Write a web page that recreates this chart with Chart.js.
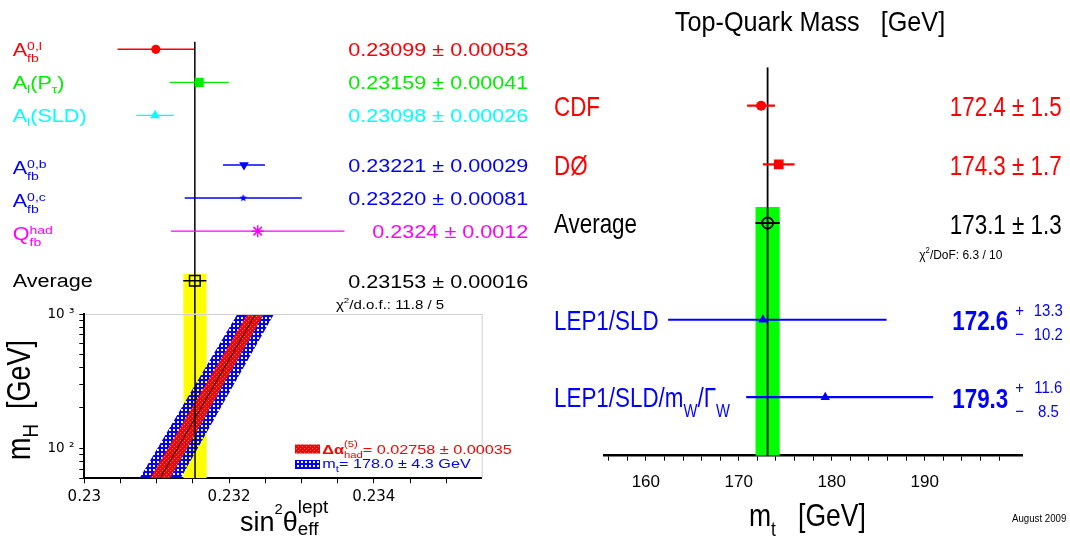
<!DOCTYPE html>
<html>
<head>
<meta charset="utf-8">
<title>sin2theta_eff and top-quark mass</title>
<script src="https://cdn.jsdelivr.net/npm/chart.js@4.4.1/dist/chart.umd.min.js"></script>
<style>
  html, body { margin: 0; padding: 0; background: #fff; }
  #wrap { position: relative; width: 1070px; height: 538px; overflow: hidden; background: #fff; }
  #wrap canvas { position: absolute; left: 0; top: 0; }
</style>
</head>
<body>
<div id="wrap">
  <canvas id="sinForest" width="1070" height="538"></canvas>
  <canvas id="sinHiggs" width="1070" height="538"></canvas>
  <canvas id="topMass" width="1070" height="538"></canvas>
</div>
<script>
// ---- left panel: sin^2 theta_eff^lept measurements
const sinLabels = [
  ["A", { sup: "0,l", sub: "fb" }],
  ["A", { sub: "l", down: 0.25 }, "(P", { sub: "τ", down: 0.25 }, ")"],
  ["A", { sub: "l", down: 0.25 }, "(SLD)"],
  ["A", { sup: "0,b", sub: "fb" }],
  ["A", { sup: "0,c", sub: "fb" }],
  ["Q", { sup: "had", sub: "fb" }],
];
const sinValues = [0.23099, 0.23159, 0.23098, 0.23221, 0.23220, 0.2324];
const sinErrors = [0.00053, 0.00041, 0.00026, 0.00029, 0.00081, 0.0012];
const sinDigits = [5, 5, 5, 5, 5, 4];
const sinRows = [0, 1, 2, 3.5, 4.5, 5.5];
const sinColors = ["#ff0000", "#00ee00", "#00ffff", "#0000ff", "#0000ff", "#ff00ff"];
const sinAverage = 0.23153;
const sinAverageError = 0.00016;
const sinAverageRow = 7;
const sinChi2 = "11.8 / 5";

// SM prediction vs Higgs mass
const mhPoints = [60, 100, 300, 1000];
const sinPredicted = [0.231047, 0.231287, 0.231802, 0.232368];
const alphaHalfWidth = [0.000138, 0.000133, 0.000123, 0.000115];
const mtopHalfWidth = [0.000284, 0.000278, 0.000266, 0.000253];
const alphaText = "0.02758 ± 0.00035";
const mtopText = "178.0 ± 4.3 GeV";

const sinTicks = [0.23, 0.2305, 0.231, 0.2315, 0.232, 0.2325, 0.233, 0.2335, 0.234, 0.2345, 0.235];
const sinTickLabels = [0.23, 0.232, 0.234];
const mhTicks = [60, 70, 80, 90, 100, 200, 300, 400, 500, 600, 700, 800, 900, 1000];
const mhTickLabels = { 100: "10 ²", 1000: "10 ³" };

// ---- right panel: top-quark mass
const mtLabels = [
  ["CDF"],
  ["DØ"],
  ["Average"],
  ["LEP1/SLD"],
  ["LEP1/SLD/m", { sub: "W", down: 0.35, s: 0.66 }, "/Γ", { sub: "W", down: 0.35, s: 0.66 }],
];
const mtValues = [172.4, 174.3, 173.1, 172.6, 179.3];
const mtErrPlus = [1.5, 1.7, 1.3, 13.3, 11.6];
const mtErrMinus = [1.5, 1.7, 1.3, 10.2, 8.5];
const mtRows = [0, 1, 2, 3.65, 4.97];
const mtColors = ["#ff0000", "#ff0000", "#000000", "#0000ff", "#0000ff"];
const mtAverageIndex = 2;
const mtChi2 = "6.3 / 10";
const mtTicks = [156, 158, 160, 162, 164, 166, 168, 170, 172, 174, 176, 178, 180,
  182, 184, 186, 188, 190, 192, 194, 196, 198];
const mtTickLabels = [160, 170, 180, 190];

// ---- page geometry
const W = 1070, H = 538;
const L_LEFT = 84.3, L_RIGHT = 481.7;
const L_ROW0 = 49.3, L_ROWSTEP = 33.06;
const L_PLOT_TOP = 314, L_PLOT_BOTTOM = 478.3;
const R_LEFT = 604, R_RIGHT = 1022.3, R_TOP = 67.3, R_AXIS = 455.7;
const R_ROW0 = 105.7, R_ROWSTEP = 58.65;
const FONT = '"Liberation Sans", Arial, sans-serif';

Chart.defaults.font.family = FONT;
Chart.defaults.color = "#000";

const fontOf = (size, weight) => `${weight || "normal"} ${size}px ${FONT}`;

// text with sub/superscripts, optional horizontal stretch
function richRun(ctx, parts, size, weight, draw) {
  let cx = 0;
  for (const p of parts) {
    const seg = typeof p === "string" ? { t: p } : p;
    if (seg.t !== undefined) {
      ctx.font = fontOf(size * (seg.s || 1), seg.w || weight);
      if (draw) ctx.fillText(seg.t, draw.x + cx, (seg.dy || 0) * size);
      cx += ctx.measureText(seg.t).width;
    } else {
      ctx.font = fontOf(size * (seg.s || 0.65), seg.w || weight);
      let adv = 0;
      if (seg.sup) {
        if (draw) ctx.fillText(seg.sup, draw.x + cx, -(seg.up ?? 0.32) * size);
        adv = ctx.measureText(seg.sup).width;
      }
      if (seg.sub) {
        if (draw) ctx.fillText(seg.sub, draw.x + cx, (seg.down ?? 0.37) * size);
        adv = Math.max(adv, ctx.measureText(seg.sub).width);
      }
      cx += adv;
    }
  }
  return cx;
}

function drawRich(ctx, x, y, parts, o) {
  ctx.save();
  ctx.translate(x, y);
  if (o.rotate) ctx.rotate(o.rotate);
  ctx.scale(o.sx || 1, o.sy || 1);
  ctx.fillStyle = o.color || "#000";
  ctx.textAlign = "left";
  ctx.textBaseline = "alphabetic";
  const w = richRun(ctx, parts, o.size, o.weight, null);
  const x0 = o.align === "right" ? -w : o.align === "center" ? -w / 2 : 0;
  richRun(ctx, parts, o.size, o.weight, { x: x0 });
  ctx.restore();
}

function makeStar(outer, inner, color) {
  const c = document.createElement("canvas");
  const size = Math.ceil(outer * 2) + 2;
  c.width = c.height = size;
  const g = c.getContext("2d");
  g.fillStyle = color;
  g.beginPath();
  for (let k = 0; k < 10; k++) {
    const r = k % 2 ? inner : outer;
    const a = -Math.PI / 2 + (k * Math.PI) / 5;
    g.lineTo(size / 2 + r * Math.cos(a), size / 2 + r * Math.sin(a));
  }
  g.closePath();
  g.fill();
  return c;
}

function makePattern(w, h, paint) {
  const c = document.createElement("canvas");
  c.width = w;
  c.height = h;
  paint(c.getContext("2d"));
  return c.getContext("2d").createPattern(c, "repeat");
}

const bluePattern = makePattern(4, 4, (g) => {
  g.fillStyle = "#0000ff";
  g.fillRect(0, 0, 4, 4);
  g.clearRect(1, 1, 2, 2);
});
const redPattern = makePattern(4, 4, (g) => {
  g.fillStyle = "#ff0000";
  g.fillRect(0, 0, 4, 4);
  g.fillStyle = "#ff7070";
  g.fillRect(0, 0, 1, 1);
  g.fillRect(2, 2, 1, 1);
});

const noInteraction = {
  responsive: false,
  animation: false,
  devicePixelRatio: 1,
  events: [],
};
const noPlugins = { legend: { display: false }, tooltip: { enabled: false } };

const hLine = (x0, x1, y, color, width, order) => ({
  data: [{ x: x0, y }, { x: x1, y }],
  showLine: true, borderColor: color, borderWidth: width, pointRadius: 0, order,
});
const vLine = (x, y0, y1, color, width, order) => ({
  data: [{ x, y: y0 }, { x, y: y1 }],
  showLine: true, borderColor: color, borderWidth: width, pointRadius: 0, order,
});
const box = (x0, x1, y0, y1, fill, order) => ({
  data: [{ x: x0, y: y0 }, { x: x0, y: y1 }, { x: x1, y: y1 }, { x: x1, y: y0 }],
  showLine: true, borderWidth: 0, borderColor: "rgba(0,0,0,0)", backgroundColor: fill,
  fill: "shape", pointRadius: 0, order,
});

// ================= left, upper part: measurements =================
const labelShift = [0, 0, 0, 2.3, 2.3, 2.3];

const forestText = {
  id: "forestText",
  afterDraw(chart) {
    const { ctx } = chart;
    const y = chart.scales.y;
    sinLabels.forEach((parts, i) => {
      const py = y.getPixelForValue(sinRows[i]);
      drawRich(ctx, 12.7, py + 6.4 + labelShift[i], parts, { size: 18, sx: 1.2, color: sinColors[i] });
      const d = sinDigits[i];
      const txt = sinValues[i].toFixed(d) + " ± " + sinErrors[i].toFixed(d);
      drawRich(ctx, 528.3, py + 6.8, [txt], { size: 18, sx: 1.2, color: sinColors[i], align: "right" });
    });
    const pa = y.getPixelForValue(sinAverageRow);
    drawRich(ctx, 12.7, pa + 6.2, ["Average"], { size: 18, sx: 1.2 });
    drawRich(ctx, 528.3, pa + 6.8, [sinAverage.toFixed(5) + " ± " + sinAverageError.toFixed(5)],
      { size: 18, sx: 1.2, align: "right" });
  },
};

new Chart(document.getElementById("sinForest"), {
  type: "scatter",
  data: {
    datasets: [
      {
        data: sinValues.map((v, i) => ({ x: v, y: sinRows[i] })),
        pointStyle: ["circle", "rect", "triangle", "triangle", makeStar(4, 1.7, "#0000ff"), "star"],
        pointRotation: [0, 0, 0, 180, 0, 0],
        pointRadius: [4.6, 6.4, 5.6, 5.6, 4, 6],
        pointBackgroundColor: sinColors,
        pointBorderColor: sinColors,
        pointBorderWidth: [0, 0, 0, 0, 0, 1.5],
        order: 0,
      },
      {
        data: [{ x: sinAverage, y: sinAverageRow }],
        pointStyle: "rect", pointRadius: 7.5,
        pointBackgroundColor: "rgba(0,0,0,0)", pointBorderColor: "#000", pointBorderWidth: 1.5,
        order: 0,
      },
      ...sinValues.map((v, i) =>
        hLine(v - sinErrors[i], v + sinErrors[i], sinRows[i], sinColors[i], 1.4, 1)),
      hLine(sinAverage - sinAverageError, sinAverage + sinAverageError, sinAverageRow, "#000", 1.4, 1),
      vLine(sinAverage, -0.23, 8, "#000", 1.5, 2),
      box(sinAverage - sinAverageError, sinAverage + sinAverageError, 6.8, 8, "#ffff00", 3),
    ],
  },
  options: {
    ...noInteraction,
    layout: {
      padding: {
        left: L_LEFT, right: W - L_RIGHT,
        top: L_ROW0 - L_ROWSTEP, bottom: H - (L_ROW0 + 8 * L_ROWSTEP),
      },
    },
    scales: {
      x: { type: "linear", display: false, min: 0.23, max: 0.2355 },
      y: { type: "linear", display: false, reverse: true, min: -1, max: 8 },
    },
    plugins: noPlugins,
  },
  plugins: [forestText],
});

// ================= left, lower part: m_H vs sin^2 =================
const higgsText = {
  id: "higgsText",
  afterDraw(chart) {
    const { ctx, chartArea: a } = chart;
    ctx.save();
    ctx.strokeStyle = "#d0d0d0";
    ctx.lineWidth = 1;
    ctx.beginPath();
    ctx.moveTo(a.left + 1, a.top + 0.5);
    ctx.lineTo(a.right + 0.5, a.top + 0.5);
    ctx.lineTo(a.right + 0.5, a.bottom);
    ctx.stroke();
    ctx.fillStyle = redPattern;
    ctx.fillRect(295, 444.5, 25, 9);
    ctx.fillStyle = bluePattern;
    ctx.fillRect(295, 460, 25, 9);
    ctx.restore();

    drawRich(ctx, 322.3, 453.5,
      [{ t: "Δα", w: "bold" }, { sup: "(5)", sub: "had", up: 0.45, down: 0.3, s: 0.7 }, "= " + alphaText],
      { size: 13.5, sx: 1.2, color: "#ff0000" });
    drawRich(ctx, 322.3, 467.7, ["m", { sub: "t", down: 0.3, s: 0.7 }, "= " + mtopText],
      { size: 13.5, sx: 1.2, color: "#0000ff" });
    drawRich(ctx, 336, 308.5, ["χ", { sup: "2", up: 0.45, s: 0.65 }, "/d.o.f.: " + sinChi2],
      { size: 12.5, sx: 1.2 });

    drawRich(ctx, 240, 530.7,
      ["sin", { sup: "2", up: 0.63, s: 0.55 }, "θ", { sup: "lept", sub: "eff", up: 0.66, down: 0.16, s: 0.7 }],
      { size: 27 });
    drawRich(ctx, 30, 400, ["m", { sub: "H", down: 0.25, s: 0.7 }, "  [GeV]"],
      { size: 27, rotate: -Math.PI / 2, sy: 1.2, align: "center" });
  },
};

const bandPolygon = (halfWidths) => [
  ...mhPoints.map((m, i) => ({ x: sinPredicted[i] - halfWidths[i], y: m })),
  ...mhPoints.map((m, i) => ({ x: sinPredicted[i] + halfWidths[i], y: m })).reverse(),
];

new Chart(document.getElementById("sinHiggs"), {
  type: "scatter",
  data: {
    datasets: [
      vLine(sinAverage, mhPoints[0], mhPoints[mhPoints.length - 1], "#000", 1.5, 0),
      {
        data: mhPoints.map((m, i) => ({ x: sinPredicted[i], y: m })),
        showLine: true, borderColor: "#000", borderWidth: 1, pointRadius: 0, order: 1,
      },
      {
        data: bandPolygon(alphaHalfWidth),
        showLine: true, borderWidth: 0, borderColor: "rgba(0,0,0,0)",
        backgroundColor: redPattern, fill: "shape", pointRadius: 0, order: 2,
      },
      {
        data: bandPolygon(mtopHalfWidth),
        showLine: true, borderWidth: 0, borderColor: "rgba(0,0,0,0)",
        backgroundColor: bluePattern, fill: "shape", pointRadius: 0, order: 3,
      },
      box(sinAverage - sinAverageError, sinAverage + sinAverageError,
        mhPoints[0], mhPoints[mhPoints.length - 1], "#ffff00", 4),
    ],
  },
  options: {
    ...noInteraction,
    layout: { padding: { left: L_LEFT - 50, right: W - L_RIGHT, top: L_PLOT_TOP, bottom: H - L_PLOT_BOTTOM - 30 } },
    scales: {
      x: {
        type: "linear", min: 0.23, max: 0.23549,
        afterBuildTicks: (axis) => { axis.ticks = sinTicks.map((v) => ({ value: v })); },
        afterFit: (axis) => { axis.height = 30; },
        ticks: {
          autoSkip: false, maxRotation: 0, padding: 5, color: "#000",
          font: { family: "DejaVu Sans", size: 15 },
          callback: (v) => (sinTickLabels.some((t) => Math.abs(t - v) < 1e-9) ? String(v) : ""),
        },
        grid: { drawOnChartArea: false, drawTicks: true, tickLength: 5, tickColor: "#000" },
        border: { display: true, color: "#000", width: 2 },
      },
      y: {
        type: "logarithmic", min: 60, max: 1000,
        afterBuildTicks: (axis) => { axis.ticks = mhTicks.map((v) => ({ value: v })); },
        afterFit: (axis) => { axis.width = 50; },
        ticks: {
          autoSkip: false, padding: 5, color: "#000",
          font: { family: "DejaVu Sans", size: 13.5 },
          callback: (v) => mhTickLabels[v] || "",
        },
        grid: { drawOnChartArea: false, drawTicks: true, tickLength: 5, tickColor: "#000" },
        border: { display: true, color: "#000", width: 2 },
      },
    },
    plugins: noPlugins,
  },
  plugins: [higgsText],
});

// ================= right panel: top-quark mass =================
const topText = {
  id: "topText",
  afterDraw(chart) {
    const { ctx } = chart;
    const y = chart.scales.y;
    drawRich(ctx, 810, 30.6, ["Top-Quark Mass   [GeV]"], { size: 28, sx: 0.9, align: "center" });
    mtLabels.forEach((parts, i) => {
      const py = y.getPixelForValue(mtRows[i]);
      drawRich(ctx, 554, py + 10.3, parts, { size: 28, sx: 0.8, color: mtColors[i] });
      if (mtErrPlus[i] === mtErrMinus[i]) {
        drawRich(ctx, 1061.7, py + 10.5,
          [mtValues[i].toFixed(1) + " ± " + mtErrPlus[i].toFixed(1)],
          { size: 28, sx: 0.8, color: mtColors[i], align: "right" });
      } else {
        drawRich(ctx, 1008.3, py + 10.5, [mtValues[i].toFixed(1)],
          { size: 28, sx: 0.8, weight: "bold", color: mtColors[i], align: "right" });
        drawRich(ctx, 1019.5, py - 4, ["+"], { size: 17, sx: 0.88, color: mtColors[i], align: "center" });
        drawRich(ctx, 1019.5, py + 20, ["−"], { size: 17, sx: 0.88, color: mtColors[i], align: "center" });
        drawRich(ctx, 1048.3, py - 4, [mtErrPlus[i].toFixed(1)],
          { size: 17, sx: 0.88, color: mtColors[i], align: "center" });
        drawRich(ctx, 1048.3, py + 20, [mtErrMinus[i].toFixed(1)],
          { size: 17, sx: 0.88, color: mtColors[i], align: "center" });
      }
    });
    const pa = y.getPixelForValue(mtRows[mtAverageIndex]);
    drawRich(ctx, 919.3, pa + 36, ["χ", { sup: "2", up: 0.5, s: 0.65 }, "/DoF: " + mtChi2], { size: 13, sx: 0.92 });
    drawRich(ctx, 749, 526, ["m", { sub: "t", down: 0.3, s: 0.65 }, "   [GeV]"], { size: 32, sx: 0.83 });
    drawRich(ctx, 1012, 522, ["August 2009"], { size: 11, sx: 0.88 });
  },
};

const mtRowMin = -(R_ROW0 - R_TOP) / R_ROWSTEP;
const mtRowMax = (R_AXIS - R_ROW0) / R_ROWSTEP;
const mtAvg = mtValues[mtAverageIndex];
const mtAvgErr = mtErrPlus[mtAverageIndex];

new Chart(document.getElementById("topMass"), {
  type: "scatter",
  data: {
    datasets: [
      {
        data: mtValues.map((v, i) => ({ x: v, y: mtRows[i] })),
        pointStyle: ["circle", "rect", "circle", "triangle", "triangle"],
        pointRadius: [5, 6.8, 5.5, 5.4, 5.4],
        pointBackgroundColor: ["#ff0000", "#ff0000", "rgba(0,0,0,0)", "#0000ff", "#0000ff"],
        pointBorderColor: mtColors,
        pointBorderWidth: [0, 0, 1.8, 0, 0],
        order: 0,
      },
      ...mtValues.map((v, i) =>
        hLine(v - mtErrMinus[i], v + mtErrPlus[i], mtRows[i], mtColors[i], 2.2, 1)),
      vLine(mtAvg, mtRowMin, mtRowMax, "#000", 1.8, 2),
      box(mtAvg - mtAvgErr, mtAvg + mtAvgErr, 1.727, mtRowMax, "#00ff00", 3),
    ],
  },
  options: {
    ...noInteraction,
    layout: { padding: { left: R_LEFT, right: W - R_RIGHT, top: R_TOP, bottom: H - R_AXIS - 40 } },
    scales: {
      x: {
        type: "linear", min: 155.5, max: 200.5,
        afterBuildTicks: (axis) => { axis.ticks = mtTicks.map((v) => ({ value: v })); },
        afterFit: (axis) => { axis.height = 40; },
        ticks: {
          autoSkip: false, maxRotation: 0, padding: 11, color: "#000",
          font: { family: FONT, size: 17 },
          callback: (v) => (mtTickLabels.includes(v) ? String(v) : ""),
        },
        grid: { drawOnChartArea: false, drawTicks: true, tickLength: 5, tickColor: "#000" },
        border: { display: true, color: "#000", width: 2.5 },
      },
      y: { type: "linear", display: false, reverse: true, min: mtRowMin, max: mtRowMax },
    },
    plugins: noPlugins,
  },
  plugins: [topText],
});
</script>
</body>
</html>
